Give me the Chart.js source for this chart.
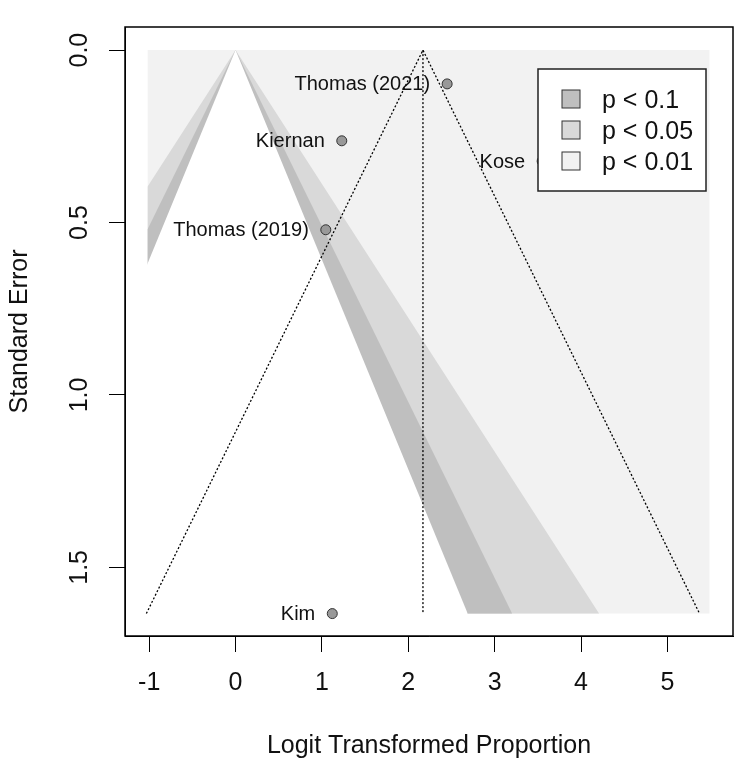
<!DOCTYPE html>
<html lang="en">
<head>
  <meta charset="UTF-8" />
  <title>Contour-enhanced Funnel Plot</title>
  <script src="https://cdn.jsdelivr.net/npm/chart.js"></script>
  <style>
    html, body { margin: 0; padding: 0; background: #fff; }
    canvas { display: block; }
  </style>
</head>
<body>
  <canvas id="funnel" width="750" height="767"></canvas>

  <script>
    // study data
    const studyNames = ['Thomas (2021)', 'Kiernan', 'Kose', 'Thomas (2019)', 'Kim'];
    const studyEffects = [2.45, 1.23, 3.55, 1.045, 1.12];
    const studySE = [0.098, 0.263, 0.322, 0.521, 1.634];

    const xTicks = [-1, 0, 1, 2, 3, 4, 5];
    const yTicks = [0, 0.5, 1, 1.5];

    // contour levels (z for 90/95/99%) and legend
    const contourZ = [1.645, 1.96, 2.576];
    const legendLabels = ['p < 0.1', 'p < 0.05', 'p < 0.01'];
    const legendShades = ['#BFBFBF', '#D9D9D9', '#F2F2F2'];
    const regionFills = ['#FFFFFF', '#BFBFBF', '#D9D9D9'];

    const refline = 0;
    const pooledEstimate = 2.17;
    const seMax = 1.634;
    const shadeRange = [-1.02, 5.49];
    const xRange = [-1.28, 5.76];
    const yRange = [-0.067, 1.699];

    Chart.defaults.font.family = '"Liberation Sans", Arial, sans-serif';
    Chart.defaults.color = '#000';

    // edge of a contour region, cut at the shaded rectangle
    // (the white one is pushed a hair past the edges so no grey seam shows)
    function contourLine(z, overshoot) {
      const pts = [];
      const xlo = shadeRange[0] - overshoot, xhi = shadeRange[1];
      if (refline - z * seMax < xlo) pts.push({ x: xlo, y: (refline - xlo) / z });
      else pts.push({ x: refline - z * seMax, y: seMax });
      pts.push({ x: refline, y: 0 });
      if (refline + z * seMax > xhi) pts.push({ x: xhi, y: (xhi - refline) / z });
      else pts.push({ x: refline + z * seMax, y: seMax });
      return pts;
    }

    const datasets = [];

    // background: outside 99%
    datasets.push({
      data: [{ x: shadeRange[0], y: 0 }, { x: shadeRange[1], y: 0 }],
      showLine: true, pointRadius: 0, borderWidth: 0, borderColor: 'transparent',
      backgroundColor: legendShades[2], fill: { value: seMax }, order: 10
    });

    contourZ.forEach((z, i) => {
      const white = i === 0;
      datasets.push({
        data: contourLine(z, white ? 0.02 : 0),
        showLine: true, pointRadius: 0, borderWidth: 0, borderColor: 'transparent',
        backgroundColor: regionFills[i], fill: { value: white ? seMax + 0.005 : seMax }, order: 5 + i
      });
    });

    // pseudo confidence funnel around pooled estimate
    datasets.push({
      data: [
        { x: pooledEstimate - 1.96 * seMax, y: seMax },
        { x: pooledEstimate, y: 0 },
        { x: pooledEstimate + 1.96 * seMax, y: seMax }
      ],
      showLine: true, pointRadius: 0, borderWidth: 1.3, borderColor: '#000',
      borderDash: [2, 2], fill: false, order: 2
    });
    datasets.push({
      data: [{ x: pooledEstimate, y: 0 }, { x: pooledEstimate, y: seMax }],
      showLine: true, pointRadius: 0, borderWidth: 1.3, borderColor: '#000',
      borderDash: [2, 2], fill: false, order: 2
    });

    // studies
    datasets.push({
      data: studyEffects.map((x, i) => ({ x: x, y: studySE[i] })),
      pointRadius: 5, pointBackgroundColor: '#999', pointBorderColor: '#333',
      pointBorderWidth: 1, order: 0
    });
    const studyIndex = datasets.length - 1;

    const studyLabels = {
      id: 'studyLabels',
      afterDatasetsDraw(chart) {
        const ctx = chart.ctx;
        const meta = chart.getDatasetMeta(studyIndex);
        ctx.save();
        ctx.font = '20px "Liberation Sans", Arial, sans-serif';
        ctx.fillStyle = '#111';
        ctx.textAlign = 'right';
        ctx.textBaseline = 'middle';
        meta.data.forEach((pt, i) => {
          ctx.fillText(studyNames[i], pt.x - 17, pt.y + 1);
        });
        ctx.restore();
      }
    };

    const boxAndLegend = {
      id: 'boxAndLegend',
      afterDraw(chart) {
        const ctx = chart.ctx;
        const a = chart.chartArea;
        ctx.save();
        ctx.strokeStyle = '#000';
        ctx.lineWidth = 1.5;
        ctx.strokeRect(a.left, a.top, a.right - a.left, a.bottom - a.top);

        const left = a.right - 195, top = a.top + 42;
        ctx.fillStyle = '#fff';
        ctx.fillRect(left, top, 168, 122);
        ctx.strokeStyle = '#222';
        ctx.strokeRect(left, top, 168, 122);

        ctx.font = '25px "Liberation Sans", Arial, sans-serif';
        ctx.textBaseline = 'middle';
        ctx.textAlign = 'left';
        legendLabels.forEach((lab, i) => {
          const cy = top + 30 + i * 31;
          ctx.fillStyle = legendShades[i];
          ctx.fillRect(left + 24, cy - 9, 18, 18);
          ctx.strokeStyle = '#333';
          ctx.lineWidth = 1;
          ctx.strokeRect(left + 24, cy - 9, 18, 18);
          ctx.fillStyle = '#111';
          ctx.fillText(lab, left + 64, cy + 2);
        });
        ctx.restore();
      }
    };

    new Chart(document.getElementById('funnel'), {
      type: 'scatter',
      data: { datasets: datasets },
      options: {
        responsive: false,
        animation: false,
        layout: { padding: { top: 16, right: 17, left: 0, bottom: 0 } },
        plugins: {
          legend: { display: false },
          tooltip: { enabled: false }
        },
        scales: {
          x: {
            type: 'linear',
            min: xRange[0],
            max: xRange[1],
            afterBuildTicks: s => { s.ticks = xTicks.map(v => ({ value: v })); },
            afterFit: s => { s.height = 131; },
            grid: { display: true, drawOnChartArea: false, drawTicks: true, tickLength: 16, color: '#000' },
            border: { display: true, color: '#000' },
            ticks: { padding: 16, autoSkip: false, maxRotation: 0, font: { size: 25 }, color: '#111', callback: v => String(v) },
            title: { display: true, text: 'Logit Transformed Proportion', font: { size: 25 }, color: '#111', padding: { top: 0, bottom: 6 } }
          },
          y: {
            type: 'linear',
            reverse: true,
            min: yRange[0],
            max: yRange[1],
            afterBuildTicks: s => { s.ticks = yTicks.map(v => ({ value: v })); },
            afterFit: s => { s.width = 125; },
            grid: { display: true, drawOnChartArea: false, drawTicks: true, tickLength: 16, color: '#000' },
            border: { display: true, color: '#000' },
            ticks: { padding: 12, autoSkip: false, minRotation: 90, maxRotation: 90, crossAlign: 'center', font: { size: 25 }, color: '#111', callback: v => v.toFixed(1) },
            title: { display: true, text: 'Standard Error', font: { size: 25 }, color: '#111', padding: { top: 5, bottom: 0 } }
          }
        }
      },
      plugins: [studyLabels, boxAndLegend]
    });
  </script>
</body>
</html>
